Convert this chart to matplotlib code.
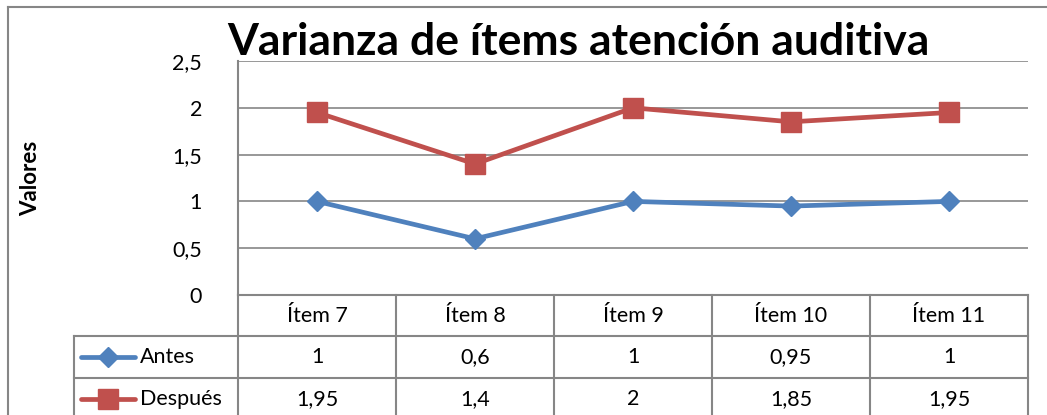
import matplotlib.pyplot as plt
from matplotlib.lines import Line2D

W, H = 1047, 415

categorias = ["Ítem 7", "Ítem 8", "Ítem 9", "Ítem 10", "Ítem 11"]
antes = [1, 0.6, 1, 0.95, 1]
despues = [1.95, 1.4, 2, 1.85, 1.95]
series = [("Antes", antes, "#4F81BD", "D"), ("Después", despues, "#C0504D", "s")]
yticks = [0, 0.5, 1, 1.5, 2, 2.5]

plt.rcParams['font.family'] = ['Lato', 'DejaVu Sans']
GRIS = "#868686"
MS = {"D": 10, "s": 14}


def fx(x):
    return x / W


def fy(y):
    return 1 - y / H


def fmt(v):
    return ("%g" % v).replace(".", ",")


fig = plt.figure(figsize=(W / 100, H / 100), dpi=100)

# marco exterior
fig.add_artist(Line2D([fx(8), fx(8)], [fy(7), fy(420)], color=GRIS, lw=1.5))
fig.add_artist(Line2D([fx(8), fx(1050)], [fy(7), fy(7)], color=GRIS, lw=1.5))

left, right, top, bottom = 238, 1028, 61, 295
ax = fig.add_axes([fx(left), fy(bottom), fx(right - left), (bottom - top) / H])
x = range(len(categorias))
for nombre, vals, col, mk in series:
    ax.plot(x, vals, color=col, lw=3.4, marker=mk, ms=MS[mk],
            markeredgecolor=col, clip_on=False, zorder=3)
ax.set_xlim(-0.5, len(categorias) - 0.5)
ax.set_ylim(0, 2.5)
ax.set_yticks(yticks)
ax.set_yticklabels([fmt(v) for v in yticks], fontsize=15.5)
ax.set_xticks([])
ax.tick_params(axis='y', length=0, pad=26)
ax.grid(axis='y', color=GRIS, lw=1.2)
ax.set_axisbelow(True)
for s in ["top", "right"]:
    ax.spines[s].set_visible(False)
for s in ["left", "bottom"]:
    ax.spines[s].set_color(GRIS)
    ax.spines[s].set_linewidth(1.5)

fig.text(fx(31), fy(178), "Valores", fontsize=16, fontweight="bold",
         rotation=90, ha="center", va="center")

fig.text(fx(578), fy(42), "Varianza de ítems atención auditiva", fontsize=32,
         fontweight="bold", ha="center", va="center")

# tabla de datos
colw = (right - left) / len(categorias)
filas = [295, 336, 378, 420]
for i in range(len(categorias) + 1):
    xx = left + i * colw
    fig.add_artist(Line2D([fx(xx), fx(xx)], [fy(295), fy(420)], color=GRIS, lw=1.5))
fig.add_artist(Line2D([fx(74), fx(74)], [fy(336), fy(420)], color=GRIS, lw=1.5))
for yy in filas[1:3]:
    fig.add_artist(Line2D([fx(74), fx(right)], [fy(yy), fy(yy)], color=GRIS, lw=1.5))

for i, c in enumerate(categorias):
    fig.text(fx(left + (i + 0.5) * colw), fy(316), c, fontsize=15.5, ha="center", va="center")

for r, (nombre, vals, col, mk) in enumerate(series):
    yc = (filas[r + 1] + filas[r + 2]) / 2
    fig.add_artist(Line2D([fx(81), fx(135)], [fy(yc), fy(yc)], color=col, lw=3.4,
                          solid_capstyle="round"))
    fig.add_artist(Line2D([fx(108)], [fy(yc)], color=col, marker=mk,
                          ms=MS[mk], markeredgecolor=col))
    fig.text(fx(140), fy(yc), nombre, fontsize=15.5, ha="left", va="center")
    for i, v in enumerate(vals):
        fig.text(fx(left + (i + 0.5) * colw), fy(yc), fmt(v), fontsize=15.5,
                 ha="center", va="center")

fig.savefig("out.png", dpi=100)
